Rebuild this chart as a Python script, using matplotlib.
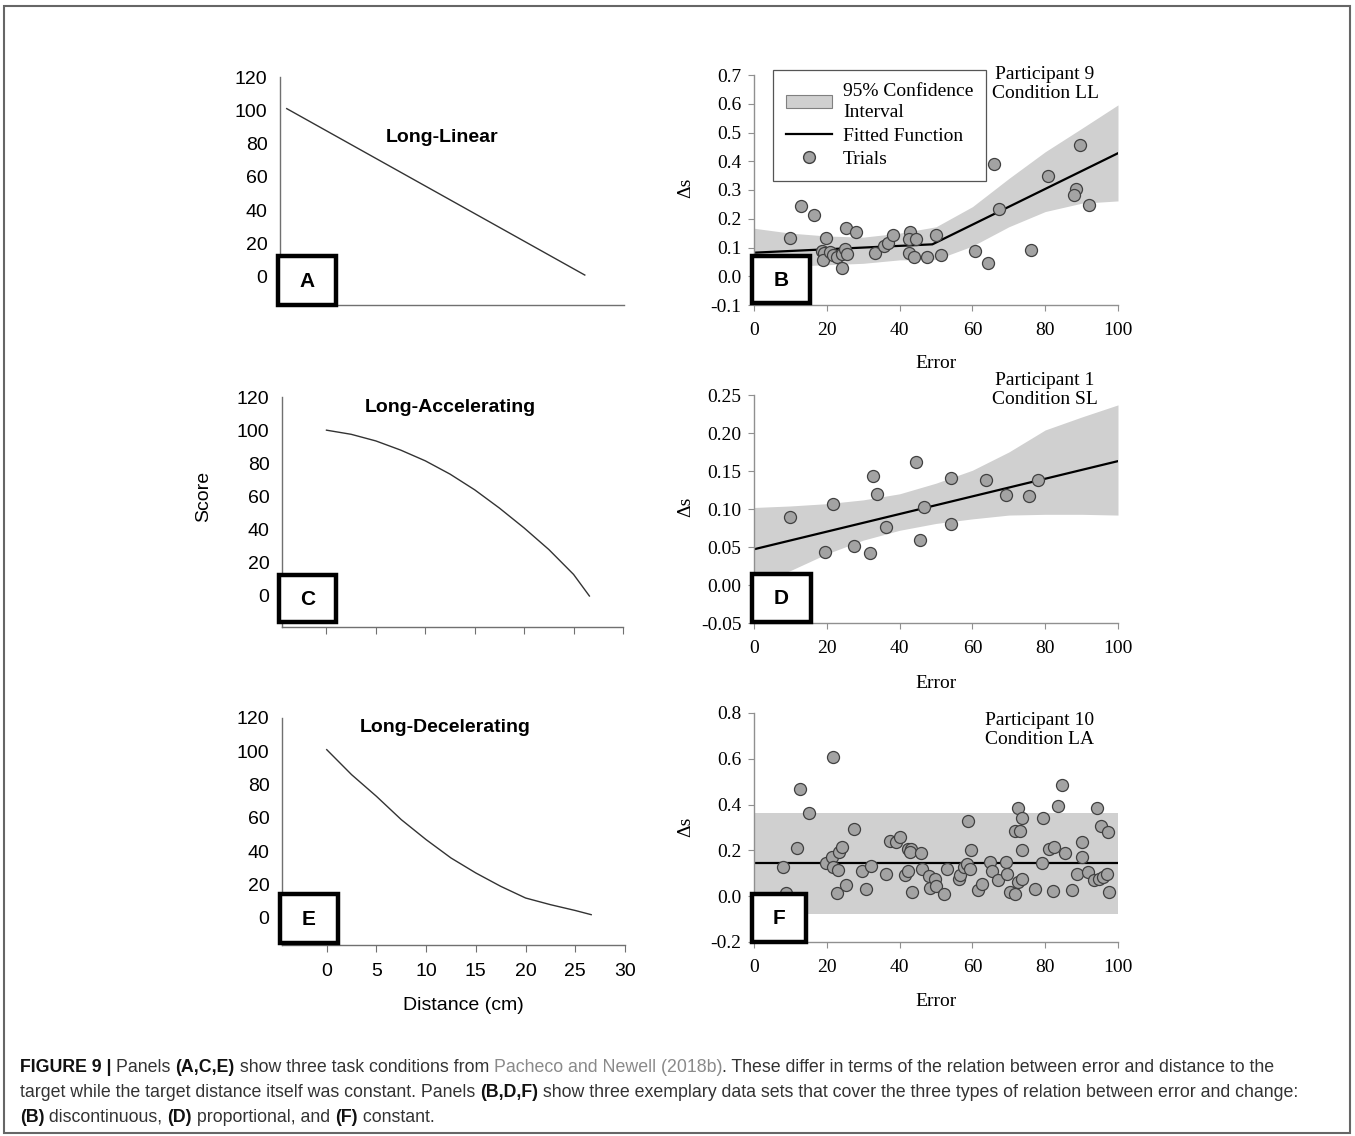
import matplotlib.pyplot as plt
from matplotlib.patches import Rectangle, Patch
from matplotlib.lines import Line2D

W, H = 1355, 1136

# ---------- left panels: score vs distance ----------
lin_dist = [0, 26.6]
lin_score = [101, 1]

acc_dist = [0, 2.5, 5, 7.5, 10, 12.5, 15, 17.5, 20, 22.5, 25, 26.6]
acc_score = [100, 97.5, 93.5, 88, 81.5, 73.5, 64, 53, 41, 28, 13, 0]

dec_dist = [0, 2.5, 5, 7.5, 10, 12.5, 15, 17.5, 20, 22.5, 25, 26.6]
dec_score = [101, 86, 73, 59, 47, 36, 27, 19, 12, 8, 4.5, 2]

# ---------- panel B: participant 9, condition LL ----------
b_err = [9.9, 12.9, 16.6, 19.9, 18.8, 19.3, 19.0, 20.9, 21.8, 22.7, 24.3, 24.1,
         25.0, 25.6, 25.3, 28.0, 33.2, 35.7, 36.9, 38.1, 42.8, 42.6, 44.5, 42.6,
         43.9, 47.6, 50.0, 51.5, 60.8, 64.3, 66.0, 67.3, 76.0, 80.9, 88.4, 87.8,
         89.5, 92.0]
b_ds = [0.132, 0.244, 0.213, 0.134, 0.089, 0.080, 0.057, 0.086, 0.074, 0.068,
        0.028, 0.077, 0.094, 0.077, 0.168, 0.155, 0.080, 0.105, 0.115, 0.142,
        0.155, 0.128, 0.128, 0.082, 0.068, 0.068, 0.142, 0.073, 0.089, 0.045,
        0.389, 0.234, 0.091, 0.349, 0.305, 0.283, 0.455, 0.249]
b_fit_x = [0, 49, 100]
b_fit_y = [0.082, 0.111, 0.428]
b_ci_x = [0, 10, 20, 30, 40, 50, 60, 70, 80, 90, 100]
b_ci_hi = [0.167, 0.150, 0.140, 0.136, 0.150, 0.172, 0.242, 0.340, 0.433, 0.514, 0.596]
b_ci_lo = [0.030, 0.035, 0.040, 0.045, 0.057, 0.058, 0.105, 0.172, 0.225, 0.254, 0.262]

# ---------- panel D: participant 1, condition SL ----------
d_err = [9.9, 21.6, 19.6, 27.5, 32.0, 32.6, 33.9, 36.2, 44.6, 46.6, 45.7,
         54.0, 54.0, 63.7, 69.1, 75.5, 78.1]
d_ds = [0.089, 0.107, 0.043, 0.051, 0.042, 0.143, 0.120, 0.076, 0.162, 0.102,
        0.059, 0.141, 0.080, 0.138, 0.119, 0.117, 0.138]
d_fit_x = [0, 100]
d_fit_y = [0.047, 0.163]
d_ci_x = [0, 10, 20, 30, 40, 50, 60, 70, 80, 90, 100]
d_ci_hi = [0.102, 0.104, 0.107, 0.112, 0.120, 0.134, 0.151, 0.175, 0.204, 0.221, 0.237]
d_ci_lo = [0.000, 0.019, 0.041, 0.059, 0.072, 0.081, 0.087, 0.092, 0.093, 0.093, 0.092]

# ---------- panel F: participant 10, condition LA ----------
f_err = [8.0, 8.8, 11.9, 12.6, 15.2, 19.7, 21.6, 21.5, 21.8, 23.0, 22.9, 23.3,
         24.2, 25.2, 27.5, 29.6, 30.9, 32.2, 36.4, 37.3, 39.0, 40.1, 41.6, 42.4,
         42.4, 43.1, 42.8, 43.4, 46.0, 46.2, 48.1, 48.3, 49.8, 49.9, 52.3, 52.9,
         56.4, 56.7, 57.6, 58.4, 58.9, 59.3, 59.5, 61.6, 62.5, 64.9, 65.3, 66.9,
         69.1, 69.4, 70.3, 71.7, 72.5, 73.5, 72.6, 71.8, 73.0, 73.7, 73.6, 77.2,
         79.1, 79.4, 81.1, 82.3, 82.2, 83.5, 84.6, 85.4, 87.4, 88.6, 90.1, 90.2,
         91.8, 93.3, 94.3, 95.2, 94.9, 96.0, 96.9, 97.3, 97.4]
f_ds = [0.128, 0.012, 0.209, 0.467, 0.365, 0.143, 0.607, 0.172, 0.128, 0.114,
        0.012, 0.191, 0.216, 0.048, 0.293, 0.108, 0.031, 0.133, 0.096, 0.239,
        0.238, 0.257, 0.092, 0.111, 0.206, 0.206, 0.194, 0.019, 0.187, 0.118,
        0.089, 0.036, 0.077, 0.045, 0.009, 0.117, 0.077, 0.092, 0.128, 0.139,
        0.330, 0.117, 0.201, 0.029, 0.053, 0.150, 0.111, 0.070, 0.150, 0.096,
        0.019, 0.009, 0.063, 0.073, 0.387, 0.285, 0.285, 0.340, 0.201, 0.031,
        0.143, 0.340, 0.206, 0.216, 0.023, 0.394, 0.486, 0.187, 0.029, 0.096,
        0.238, 0.172, 0.107, 0.070, 0.383, 0.307, 0.073, 0.085, 0.096, 0.279,
        0.019]
f_fit_x = [0, 100]
f_fit_y = [0.143, 0.143]
f_ci_x = [0, 100]
f_ci_hi = [0.362, 0.362]
f_ci_lo = [-0.076, -0.076]

SANS = ['Liberation Sans', 'DejaVu Sans']
SERIF = ['Liberation Serif', 'DejaVu Serif']
BAND = '#d0d0d0'
DOT = '#a3a3a3'
DOT_EDGE = '#404040'
FS_L = 14      # left panels (sans)
FS_R = 14      # right panels (serif)

fig = plt.figure(figsize=(W / 100, H / 100), dpi=100)


def px_axes(l, t, r, b):
    return fig.add_axes([l / W, 1 - b / H, (r - l) / W, (b - t) / H])


def px_text(x, y, s, **kw):
    return fig.text(x / W, 1 - y / H, s, **kw)


def label_box(l, t, r, b, letter):
    fig.add_artist(Rectangle((l / W, 1 - b / H), (r - l) / W, (b - t) / H,
                             transform=fig.transFigure, facecolor='white',
                             edgecolor='black', linewidth=3.2, zorder=5))
    px_text((l + r) / 2, (t + b) / 2 + 1, letter, ha='center', va='center',
            family=SANS, fontsize=15, fontweight='bold', zorder=6)


def style_left(ax, ylim, xlim, show_xticks, show_xlabels):
    ax.set_xlim(*xlim)
    ax.set_ylim(*ylim)
    for s in ('top', 'right'):
        ax.spines[s].set_visible(False)
    for s in ('left', 'bottom'):
        ax.spines[s].set_color('#707070')
        ax.spines[s].set_linewidth(1.0)
    ax.set_yticks(range(0, 121, 20))
    ax.tick_params(axis='y', length=0, pad=9, labelsize=FS_L)
    if show_xticks:
        ax.set_xticks(range(0, 31, 5))
        ax.tick_params(axis='x', length=5, color='#707070', pad=8,
                       labelsize=FS_L, labelbottom=show_xlabels)
    else:
        ax.set_xticks([])
    for lab in ax.get_xticklabels() + ax.get_yticklabels():
        lab.set_family(SANS)


def style_right(ax, ylim, yticks, ylabels):
    ax.set_xlim(0, 100)
    ax.set_ylim(*ylim)
    for s in ('top', 'right'):
        ax.spines[s].set_visible(False)
    for s in ('left', 'bottom'):
        ax.spines[s].set_color('#909090')
        ax.spines[s].set_linewidth(1.0)
    ax.set_xticks(range(0, 101, 20))
    ax.set_yticks(yticks)
    ax.set_yticklabels(ylabels)
    ax.tick_params(axis='both', direction='out', length=4, color='#909090',
                   labelsize=FS_R)
    ax.tick_params(axis='x', pad=8)
    ax.tick_params(axis='y', pad=5)
    for lab in ax.get_xticklabels() + ax.get_yticklabels():
        lab.set_family(SERIF)


# ---------- A ----------
axA = px_axes(280, 77, 624, 305)
axA.plot(lin_dist, lin_score, color='#333333', lw=1.0)
style_left(axA, (-17, 120), (-0.6, 30.1), False, False)
px_text(442, 137, 'Long-Linear', ha='center', va='center', family=SANS,
        fontsize=FS_L, fontweight='bold')
label_box(278, 256, 336, 305, 'A')

# ---------- C ----------
axC = px_axes(282, 397, 623, 627)
axC.plot(acc_dist, acc_score, color='#333333', lw=1.0)
style_left(axC, (-18.7, 120), (-4.5, 29.8), True, False)
px_text(450, 408, 'Long-Accelerating', ha='center', va='center', family=SANS,
        fontsize=FS_L, fontweight='bold')
px_text(204, 496, 'Score', ha='center', va='center', rotation=90,
        family=SANS, fontsize=FS_L)
label_box(279, 575, 336, 622, 'C')

# ---------- E ----------
axE = px_axes(282, 718, 625, 945)
axE.plot(dec_dist, dec_score, color='#333333', lw=1.0)
style_left(axE, (-16.2, 120), (-4.5, 30), True, True)
px_text(445, 727, 'Long-Decelerating', ha='center', va='center', family=SANS,
        fontsize=FS_L, fontweight='bold')
px_text(463, 1005, 'Distance (cm)', ha='center', va='center', family=SANS,
        fontsize=FS_L)
label_box(280, 894, 338, 943, 'E')

# ---------- B ----------
axB = px_axes(754, 75, 1118, 305)
axB.fill_between(b_ci_x, b_ci_lo, b_ci_hi, color=BAND, lw=0, zorder=1)
axB.plot(b_fit_x, b_fit_y, color='black', lw=1.6, zorder=2)
axB.scatter(b_err, b_ds, s=75, c=DOT, edgecolors=DOT_EDGE, linewidths=0.9,
            zorder=3)
style_right(axB, (-0.1, 0.7), [-0.1, 0, 0.1, 0.2, 0.3, 0.4, 0.5, 0.6, 0.7],
            ['-0.1', '0.0', '0.1', '0.2', '0.3', '0.4', '0.5', '0.6', '0.7'])
handles = [Patch(facecolor=BAND, edgecolor='#808080', linewidth=0.8),
           Line2D([], [], color='black', lw=1.6),
           Line2D([], [], ls='none', marker='o', markersize=8.5,
                  markerfacecolor=DOT, markeredgecolor=DOT_EDGE)]
leg = axB.legend(handles, ['95% Confidence\nInterval', 'Fitted Function', 'Trials'],
                 loc='upper left', bbox_to_anchor=(773 / W, 1 - 70 / H),
                 bbox_transform=fig.transFigure, borderaxespad=0,
                 fancybox=False, edgecolor='#555555', framealpha=1,
                 prop={'family': SERIF, 'size': FS_R}, handlelength=2.4,
                 labelspacing=0.3, borderpad=0.65, handletextpad=0.55)
leg.get_frame().set_linewidth(0.9)
for t in leg.get_texts():
    t.set_linespacing(1.35)
px_text(1045, 84, 'Participant 9\nCondition LL', ha='center', va='center',
        family=SERIF, fontsize=FS_R, linespacing=1.1)
px_text(686, 188, 'Δs', ha='center', va='center', rotation=90, family=SERIF,
        fontsize=FS_R)
px_text(936, 363, 'Error', ha='center', va='center', family=SERIF, fontsize=FS_R)
label_box(752, 256, 810, 303, 'B')

# ---------- D ----------
axD = px_axes(754, 395, 1118, 623)
axD.fill_between(d_ci_x, d_ci_lo, d_ci_hi, color=BAND, lw=0, zorder=1)
axD.plot(d_fit_x, d_fit_y, color='black', lw=1.6, zorder=2)
axD.scatter(d_err, d_ds, s=75, c=DOT, edgecolors=DOT_EDGE, linewidths=0.9,
            zorder=3)
style_right(axD, (-0.05, 0.25), [-0.05, 0, 0.05, 0.1, 0.15, 0.2, 0.25],
            ['-0.05', '0.00', '0.05', '0.10', '0.15', '0.20', '0.25'])
px_text(1045, 390, 'Participant 1\nCondition SL', ha='center', va='center',
        family=SERIF, fontsize=FS_R, linespacing=1.1)
px_text(686, 507, 'Δs', ha='center', va='center', rotation=90, family=SERIF,
        fontsize=FS_R)
px_text(936, 683, 'Error', ha='center', va='center', family=SERIF, fontsize=FS_R)
label_box(752, 574, 811, 622, 'D')

# ---------- F ----------
axF = px_axes(754, 713, 1118, 942)
axF.fill_between(f_ci_x, f_ci_lo, f_ci_hi, color=BAND, lw=0, zorder=1)
axF.plot(f_fit_x, f_fit_y, color='black', lw=1.6, zorder=2)
axF.scatter(f_err, f_ds, s=75, c=DOT, edgecolors=DOT_EDGE, linewidths=0.9,
            zorder=3)
style_right(axF, (-0.2, 0.8), [-0.2, 0, 0.2, 0.4, 0.6, 0.8],
            ['-0.2', '0.0', '0.2', '0.4', '0.6', '0.8'])
px_text(1040, 730, 'Participant 10\nCondition LA', ha='center', va='center',
        family=SERIF, fontsize=FS_R, linespacing=1.1)
px_text(686, 827, 'Δs', ha='center', va='center', rotation=90, family=SERIF,
        fontsize=FS_R)
px_text(936, 1002, 'Error', ha='center', va='center', family=SERIF, fontsize=FS_R)
label_box(752, 894, 806, 942, 'F')

# ---------- outer frame ----------
fig.add_artist(Rectangle((3.5 / W, 1 - 1133 / H), (1350 - 3.5) / W, (1133 - 6) / H,
                         transform=fig.transFigure, fill=False,
                         edgecolor='#666666', linewidth=1.5))

# ---------- caption ----------
B_, N_, G_ = 'bold', 'normal', 'gray'
caption = [
    [('FIGURE 9 | ', B_), ('Panels ', N_), ('(A,C,E)', B_),
     (' show three task conditions from ', N_), ('Pacheco and Newell (2018b)', G_),
     ('. These differ in terms of the relation between error and distance to the', N_)],
    [('target while the target distance itself was constant. Panels ', N_),
     ('(B,D,F)', B_),
     (' show three exemplary data sets that cover the three types of relation between error and change:', N_)],
    [('(B)', B_), (' discontinuous, ', N_), ('(D)', B_), (' proportional, and ', N_),
     ('(F)', B_), (' constant.', N_)],
]
renderer = fig.canvas.get_renderer()
for i, line in enumerate(caption):
    x = 20
    y = 1072 + 25 * i
    for txt, kind in line:
        color = {'bold': '#111111', 'normal': '#333333', 'gray': '#8a8a8a'}[kind]
        t = px_text(x, y, txt, ha='left', va='baseline', family=SANS,
                    fontsize=12.8, color=color,
                    fontweight='bold' if kind == 'bold' else 'normal')
        x += t.get_window_extent(renderer).width

fig.savefig('out.png', dpi=100)
